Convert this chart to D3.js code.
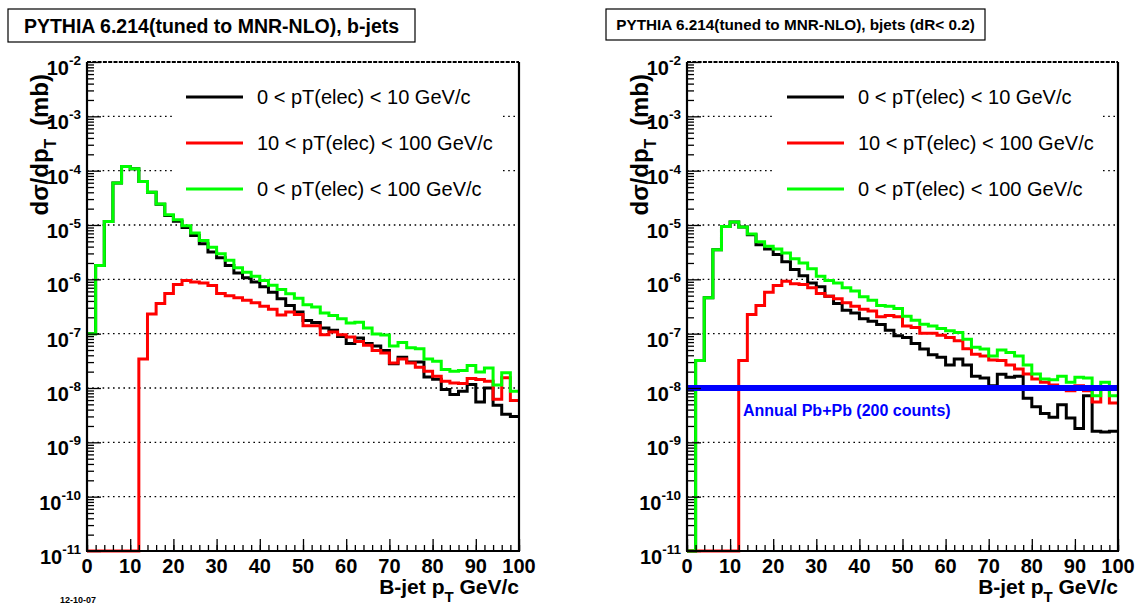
<!DOCTYPE html>
<html>
<head>
<meta charset="utf-8">
<script src="https://cdn.jsdelivr.net/npm/d3@7"></script>
<style>
  html, body { margin: 0; padding: 0; background: #fff; }
  svg { display: block; }
  text { font-family: "Liberation Sans", Arial, Helvetica, sans-serif; }
</style>
</head>
<body>
<svg id="chart" width="1143" height="606"></svg>
<script>
// ---------------- DATA ----------------
// 50 bins of 2 GeV/c from 0 to 100 (bin lower edges)
const binEdges = d3.range(0, 101, 2);
const xTicks = [0, 10, 20, 30, 40, 50, 60, 70, 80, 90, 100];
const yDecades = [-11, -10, -9, -8, -7, -6, -5, -4, -3, -2];

const legendLabels = [
  "0 < pT(elec) < 10 GeV/c",
  "10 < pT(elec) < 100 GeV/c",
  "0 < pT(elec) < 100 GeV/c"
];
const seriesColors = ["#000000", "#ff0000", "#00ff00"];

// Left panel: b-jets
const leftBlack = [
  1.0e-7, 1.8e-6, 1.16e-5, 5.9e-5, 1.19e-4, 1.08e-4, 6.3e-5, 4.0e-5, 2.4e-5, 1.5e-5,
  1.17e-5, 9.0e-6, 6.4e-6, 4.5e-6, 3.2e-6, 2.5e-6, 1.79e-6, 1.31e-6, 1.07e-6, 8.9e-7,
  7.3e-7, 5.8e-7, 4.4e-7, 3.3e-7, 2.5e-7, 1.75e-7, 1.6e-7, 1.27e-7, 1.15e-7, 8.9e-8,
  6.6e-8, 8.3e-8, 6.6e-8, 5.9e-8, 4.9e-8, 2.8e-8, 3.7e-8, 3.0e-8, 3.0e-8, 1.6e-8,
  1.45e-8, 9.4e-9, 7.6e-9, 8.7e-9, 1.16e-8, 5.5e-9, 1.0e-8, 4.8e-9, 3.3e-9, 3.0e-9
];
const leftRed = [
  0, 0, 0, 0, 0, 0, 3.4e-8, 2.3e-7, 3.6e-7, 5.5e-7,
  8.0e-7, 9.5e-7, 8.9e-7, 8.6e-7, 7.7e-7, 5.5e-7, 5.0e-7, 4.6e-7, 4.1e-7, 3.7e-7,
  3.2e-7, 2.8e-7, 2.2e-7, 2.5e-7, 2.25e-7, 1.4e-7, 1.4e-7, 9.6e-8, 1.07e-7, 9.6e-8,
  8.7e-8, 7.2e-8, 6.1e-8, 4.9e-8, 4.4e-8, 2.9e-8, 3.4e-8, 2.9e-8, 2.4e-8, 2.04e-8,
  1.65e-8, 1.33e-8, 1.24e-8, 1.21e-8, 1.49e-8, 1.43e-8, 1.33e-8, 6.2e-9, 1.54e-8, 5.9e-9
];
const leftGreen = [
  1.0e-7, 1.8e-6, 1.16e-5, 5.9e-5, 1.19e-4, 1.08e-4, 6.3e-5, 4.0e-5, 2.43e-5, 1.55e-5,
  1.25e-5, 9.7e-6, 7.1e-6, 5.2e-6, 3.9e-6, 2.97e-6, 2.24e-6, 1.63e-6, 1.35e-6, 1.14e-6,
  9.5e-7, 7.8e-7, 6.5e-7, 5.4e-7, 4.5e-7, 3.4e-7, 3.1e-7, 2.4e-7, 2.17e-7, 1.88e-7,
  1.57e-7, 1.62e-7, 1.27e-7, 9.9e-8, 9.5e-8, 5.9e-8, 6.9e-8, 5.5e-8, 5.3e-8, 3.4e-8,
  3.1e-8, 2.18e-8, 2.04e-8, 2.09e-8, 2.6e-8, 1.98e-8, 2.34e-8, 1.13e-8, 1.9e-8, 8.7e-9
];

// Right panel: bjets (dR < 0.2)
const rightBlack = [
  0, 3.2e-8, 4.6e-7, 3.5e-6, 9.4e-6, 1.13e-5, 9.2e-6, 6.6e-6, 4.35e-6, 3.6e-6,
  2.85e-6, 2.1e-6, 1.51e-6, 1.17e-6, 8.6e-7, 7.3e-7, 4.9e-7, 3.6e-7, 2.7e-7, 2.4e-7,
  1.88e-7, 1.7e-7, 1.48e-7, 1.15e-7, 9.2e-8, 8.5e-8, 6.6e-8, 5.2e-8, 4.1e-8, 3.7e-8,
  2.64e-8, 3.4e-8, 2.64e-8, 1.65e-8, 1.53e-8, 1.1e-8, 1.8e-8, 1.57e-8, 1.64e-8, 6.5e-9,
  4.5e-9, 3.4e-9, 2.9e-9, 4.9e-9, 2.8e-9, 1.8e-9, 7.2e-9, 1.6e-9, 1.55e-9, 1.6e-9
];
const rightRed = [
  0, 0, 0, 0, 0, 0, 3.2e-8, 2.26e-7, 3.3e-7, 5.8e-7,
  7.7e-7, 9.2e-7, 8.3e-7, 8.0e-7, 7.0e-7, 5.5e-7, 4.9e-7, 4.4e-7, 3.7e-7, 3.2e-7,
  2.8e-7, 2.6e-7, 2.05e-7, 2.15e-7, 2.05e-7, 1.39e-7, 1.3e-7, 1.02e-7, 1.02e-7, 9.4e-8,
  8.5e-8, 7.4e-8, 5.3e-8, 4.2e-8, 3.9e-8, 3.27e-8, 3.2e-8, 2.64e-8, 2.23e-8, 1.81e-8,
  1.46e-8, 1.27e-8, 1.13e-8, 1.03e-8, 8.9e-9, 1.1e-8, 8.9e-9, 5.5e-9, 9.9e-9, 5.3e-9
];
const rightGreen = [
  0, 3.2e-8, 4.6e-7, 3.5e-6, 9.4e-6, 1.13e-5, 9.2e-6, 6.8e-6, 4.9e-6, 4.05e-6,
  3.6e-6, 3.06e-6, 2.38e-6, 2.0e-6, 1.56e-6, 1.14e-6, 9.5e-7, 8.6e-7, 7.0e-7, 6.1e-7,
  4.8e-7, 4.1e-7, 3.3e-7, 3.2e-7, 2.9e-7, 2.1e-7, 1.77e-7, 1.49e-7, 1.39e-7, 1.24e-7,
  1.13e-7, 1.05e-7, 7.9e-8, 5.6e-8, 5.2e-8, 3.9e-8, 5.0e-8, 4.5e-8, 3.9e-8, 2.64e-8,
  1.81e-8, 1.46e-8, 1.42e-8, 1.64e-8, 1.27e-8, 1.57e-8, 1.53e-8, 7.2e-9, 1.27e-8, 7.2e-9
];

const annualLevel = 1e-8;
const annualLabel = "Annual Pb+Pb (200 counts)";

// ---------------- DRAWING ----------------
const svg = d3.select("#chart");
const yMin = 1e-11, yMax = 1e-2;

function drawPanel(cfg) {
  const g = svg.append("g");
  const x = d3.scaleLinear().domain([0, 100]).range([cfg.x0, cfg.x1]);
  const y = d3.scaleLog().domain([yMin, yMax]).range([cfg.yb, cfg.yt]);

  // title box
  g.append("rect")
    .attr("x", cfg.tBox[0]).attr("y", cfg.tBox[1])
    .attr("width", cfg.tBox[2]).attr("height", cfg.tBox[3])
    .attr("fill", "#fff").attr("stroke", "#000").attr("stroke-width", 1.2);
  g.append("text")
    .attr("x", cfg.tBox[0] + cfg.tBox[2] / 2)
    .attr("y", cfg.tBox[1] + cfg.tBox[3] / 2 + cfg.tSize * 0.36)
    .attr("text-anchor", "middle")
    .attr("font-weight", "bold").attr("font-size", cfg.tSize)
    .text(cfg.title);

  // horizontal dotted grid at decades
  g.append("g").selectAll("line")
    .data(yDecades.filter(d => d > -11 && d < -2))
    .join("line")
    .attr("x1", cfg.x0).attr("x2", cfg.x1)
    .attr("y1", d => y(Math.pow(10, d))).attr("y2", d => y(Math.pow(10, d)))
    .attr("stroke", "#000").attr("stroke-width", 1.4)
    .attr("stroke-dasharray", "1.6,3.6");

  // legend (white box hides grid)
  g.append("rect")
    .attr("x", cfg.legX - 14).attr("y", 72)
    .attr("width", cfg.x1 - 16 - (cfg.legX - 14)).attr("height", 138)
    .attr("fill", "#fff");
  legendLabels.forEach((lab, i) => {
    const ly = 97 + i * 46;
    g.append("line")
      .attr("x1", cfg.legX).attr("x2", cfg.legX + 57)
      .attr("y1", ly).attr("y2", ly)
      .attr("stroke", seriesColors[i]).attr("stroke-width", 3);
    g.append("text")
      .attr("x", cfg.legX + 71).attr("y", ly + 7)
      .attr("font-size", 20)
      .text(lab);
  });

  // histograms
  const line = d3.line()
    .x(d => x(d[0]))
    .y(d => y(Math.max(d[1], yMin)))
    .curve(d3.curveStepAfter);
  const hists = [cfg.black, cfg.red, cfg.green];
  hists.forEach((vals, i) => {
    const pts = vals.map((v, k) => [binEdges[k], v]);
    pts.push([100, vals[vals.length - 1]]);
    g.append("path")
      .attr("d", line(pts))
      .attr("fill", "none")
      .attr("stroke", seriesColors[i])
      .attr("stroke-width", 3)
      .attr("stroke-linejoin", "miter");
  });

  if (cfg.annual) {
    g.append("line")
      .attr("x1", cfg.x0).attr("x2", cfg.x1)
      .attr("y1", y(annualLevel)).attr("y2", y(annualLevel))
      .attr("stroke", "#0000ff").attr("stroke-width", 6);
    g.append("text")
      .attr("x", x(13)).attr("y", y(annualLevel) + 28)
      .attr("fill", "#0000ff").attr("font-weight", "bold").attr("font-size", 16)
      .text(annualLabel);
  }

  // y axis ticks (inside)
  const minorVals = [];
  for (let e = -11; e < -2; e++) for (let m = 2; m <= 9; m++) minorVals.push(m * Math.pow(10, e));
  g.append("g").attr("transform", `translate(${cfg.x0},0)`)
    .call(d3.axisRight(y).tickValues(minorVals).tickSize(7).tickFormat(""))
    .call(s => s.select(".domain").remove())
    .selectAll("line").attr("stroke", "#000").attr("stroke-width", 1.3);
  g.append("g").attr("transform", `translate(${cfg.x0},0)`)
    .call(d3.axisRight(y).tickValues(yDecades.map(d => Math.pow(10, d))).tickSize(14).tickFormat(""))
    .call(s => s.select(".domain").remove())
    .selectAll("line").attr("stroke", "#000").attr("stroke-width", 1.3);

  // x axis ticks (inside, pointing up)
  g.append("g").attr("transform", `translate(0,${cfg.yb})`)
    .call(d3.axisTop(x).tickValues(d3.range(0, 101, 2)).tickSize(6).tickFormat(""))
    .call(s => s.select(".domain").remove())
    .selectAll("line").attr("stroke", "#000").attr("stroke-width", 1.3);
  g.append("g").attr("transform", `translate(0,${cfg.yb})`)
    .call(d3.axisTop(x).tickValues(xTicks).tickSize(12).tickFormat(""))
    .call(s => s.select(".domain").remove())
    .selectAll("line").attr("stroke", "#000").attr("stroke-width", 1.3);

  // frame
  g.append("line").attr("x1", cfg.x0).attr("x2", cfg.x0).attr("y1", cfg.yt).attr("y2", cfg.yb)
    .attr("stroke", "#000").attr("stroke-width", 2.2);
  g.append("line").attr("x1", cfg.x1).attr("x2", cfg.x1).attr("y1", cfg.yt).attr("y2", cfg.yb)
    .attr("stroke", "#000").attr("stroke-width", 2.2);
  g.append("line").attr("x1", cfg.x0 - 1).attr("x2", cfg.x1 + 1).attr("y1", cfg.yb).attr("y2", cfg.yb)
    .attr("stroke", "#000").attr("stroke-width", 2.2);
  g.append("line").attr("x1", cfg.x0).attr("x2", cfg.x1).attr("y1", cfg.yt).attr("y2", cfg.yt)
    .attr("stroke", "#000").attr("stroke-width", 2.2).attr("stroke-dasharray", "4,1.3");

  // y tick labels 10^n
  yDecades.forEach(d => {
    const t = g.append("text")
      .attr("x", cfg.x0 - 6).attr("y", y(Math.pow(10, d)) + 13)
      .attr("text-anchor", "end")
      .attr("font-weight", "bold").attr("font-size", 20);
    t.append("tspan").text("10");
    t.append("tspan").attr("font-size", 13.5).attr("dy", -10).text(String(d));
  });

  // x tick labels
  g.append("g").selectAll("text").data(xTicks).join("text")
    .attr("x", d => x(d)).attr("y", cfg.yb + 22)
    .attr("text-anchor", "middle")
    .attr("font-weight", "bold").attr("font-size", 20)
    .text(d => d);

  // axis titles
  const xt = g.append("text")
    .attr("x", cfg.x1).attr("y", cfg.yb + 43)
    .attr("text-anchor", "end")
    .attr("font-weight", "bold").attr("font-size", 21);
  xt.append("tspan").text("B-jet p");
  xt.append("tspan").attr("font-size", 15).attr("dy", 8).text("T");
  xt.append("tspan").attr("dy", -8).text(" GeV/c");

  const yt = g.append("text")
    .attr("transform", `translate(${cfg.x0 - 39},${cfg.yt + 12}) rotate(-90)`)
    .attr("text-anchor", "end")
    .attr("font-weight", "bold").attr("font-size", 24);
  yt.append("tspan").text("dσ/dp");
  yt.append("tspan").attr("font-size", 16).attr("dy", 8).text("T");
  yt.append("tspan").attr("dy", -8).attr("dx", 6).text(" (mb)");
}

drawPanel({
  x0: 87, x1: 519, yt: 62, yb: 551,
  tBox: [8, 9, 407, 33], tSize: 19.5,
  title: "PYTHIA 6.214(tuned to MNR-NLO), b-jets",
  legX: 186,
  black: leftBlack, red: leftRed, green: leftGreen,
  annual: false
});
drawPanel({
  x0: 687, x1: 1118, yt: 62, yb: 551,
  tBox: [606, 9, 379, 31], tSize: 15.3,
  title: "PYTHIA 6.214(tuned to MNR-NLO), bjets (dR< 0.2)",
  legX: 787,
  black: rightBlack, red: rightRed, green: rightGreen,
  annual: true
});

svg.append("text")
  .attr("x", 60).attr("y", 603)
  .attr("font-weight", "bold").attr("font-size", 9)
  .text("12-10-07");
</script>
</body>
</html>
